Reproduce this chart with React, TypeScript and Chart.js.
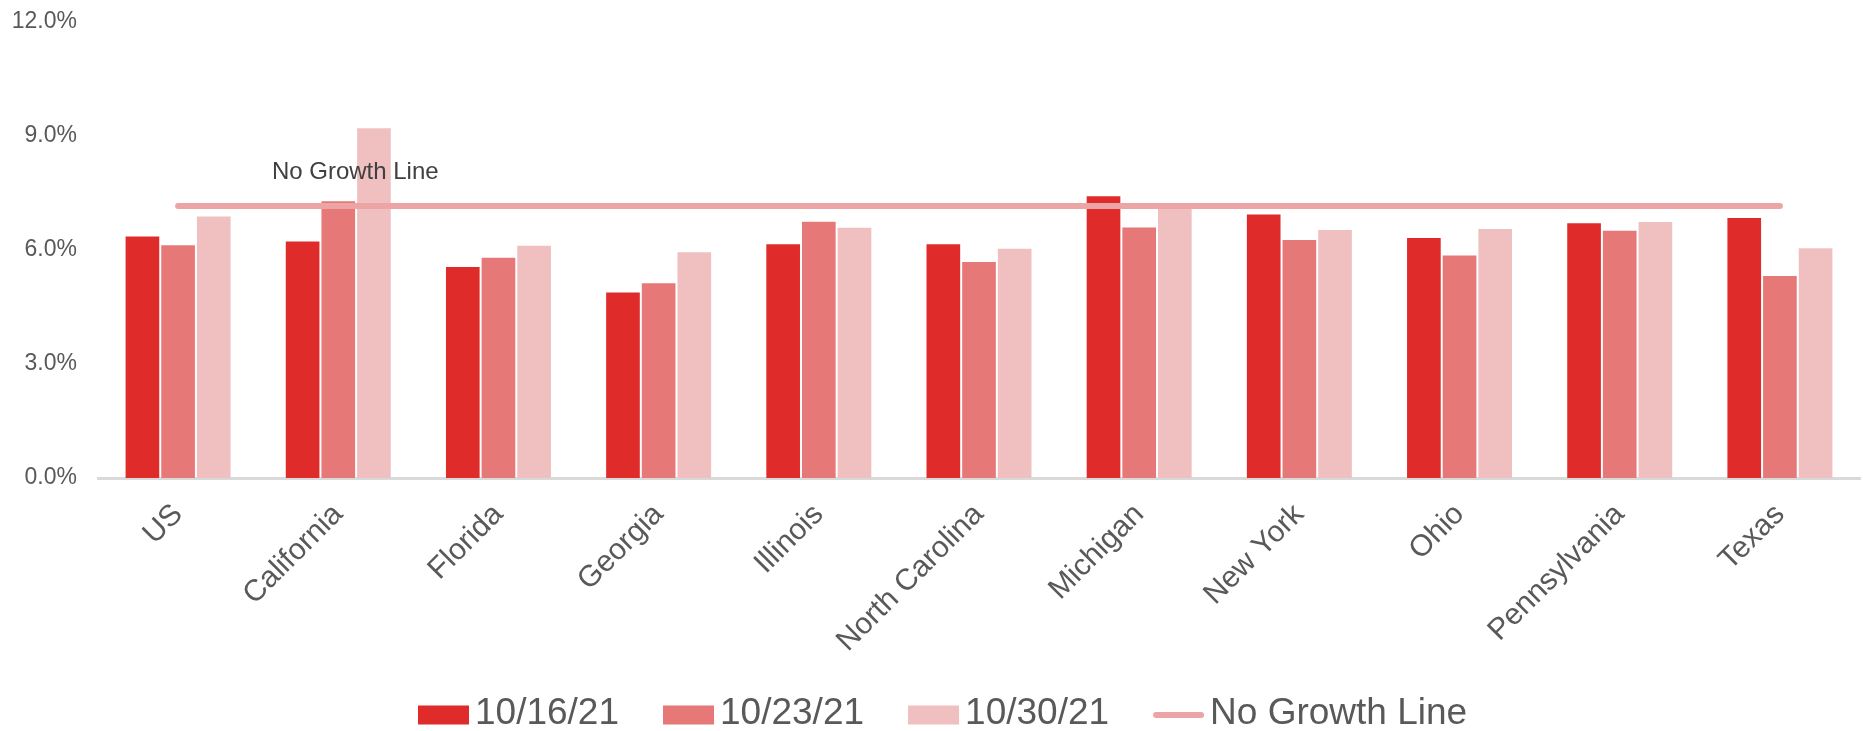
import React, { useEffect, useRef } from "react";
import { Chart, registerables } from "chart.js";

Chart.register(...registerables);

const categories = [
  "US",
  "California",
  "Florida",
  "Georgia",
  "Illinois",
  "North Carolina",
  "Michigan",
  "New York",
  "Ohio",
  "Pennsylvania",
  "Texas",
];
const week1016 = [6.38, 6.25, 5.58, 4.91, 6.18, 6.18, 7.44, 6.96, 6.34, 6.73, 6.87];
const week1023 = [6.15, 7.31, 5.82, 5.15, 6.77, 5.71, 6.62, 6.29, 5.88, 6.53, 5.34];
const week1030 = [6.91, 9.23, 6.14, 5.97, 6.61, 6.06, 7.2, 6.55, 6.58, 6.76, 6.07];
const noGrowthLine = [7.16, 7.16, 7.16, 7.16, 7.16, 7.16, 7.16, 7.16, 7.16, 7.16, 7.16];
const seriesLabels = ["10/16/21", "10/23/21", "10/30/21", "No Growth Line"];
const yTicks = [0, 3, 6, 9, 12];
const annotationText = "No Growth Line";

const FONT = "'Liberation Sans', Arial, Helvetica, sans-serif";
const COLORS = ["#E02B2B", "#E67878", "#F0C0C0", "#EDA4A4"];

const W = 1863;
const H = 731;
const PLOT_LEFT = 98;
const PLOT_TOP = 22;
const PLOT_BOTTOM = 478;

const legendPlugin = {
  id: "customLegend",
  afterDraw(chart: any) {
    const ctx = chart.ctx;
    const ds = chart.data.datasets;
    ctx.save();
    ctx.font = `37px ${FONT}`;
    ctx.textBaseline = "middle";
    ctx.textAlign = "left";
    const y = 715;
    let x = 418;
    ds.forEach((d: any) => {
      if (d.type === "line") {
        ctx.strokeStyle = d.borderColor;
        ctx.lineWidth = 6;
        ctx.lineCap = "round";
        ctx.beginPath();
        ctx.moveTo(x + 3, y);
        ctx.lineTo(x + 48, y);
        ctx.stroke();
      } else {
        ctx.fillStyle = d.backgroundColor;
        ctx.fillRect(x, y - 9.5, 51, 19);
      }
      ctx.fillStyle = "#595959";
      ctx.fillText(d.label, x + 57, y - 1);
      x += 57 + ctx.measureText(d.label).width + 44;
    });
    ctx.restore();
  },
};

const annotationPlugin = {
  id: "noGrowthLabel",
  afterDatasetsDraw(chart: any) {
    const ctx = chart.ctx;
    const xs = chart.scales.x;
    const ys = chart.scales.y;
    ctx.save();
    ctx.font = `24px ${FONT}`;
    ctx.fillStyle = "#404040";
    ctx.textAlign = "center";
    ctx.textBaseline = "middle";
    ctx.fillText(annotationText, xs.getPixelForValue(1) + 17, ys.getPixelForValue(noGrowthLine[1]) - 34);
    ctx.restore();
  },
};

export default function App() {
  const ref = useRef<HTMLCanvasElement>(null);
  useEffect(() => {
    if (!ref.current) return;
    const barCommon = {
      type: "bar" as const,
      categoryPercentage: 0.668,
      barPercentage: 1,
      borderWidth: 1,
      borderColor: "rgba(255,255,255,0.25)",
      order: 1,
    };
    const chart = new Chart(ref.current, {
      type: "bar",
      data: {
        labels: categories,
        datasets: [
          { ...barCommon, label: seriesLabels[0], data: week1016, backgroundColor: COLORS[0] },
          { ...barCommon, label: seriesLabels[1], data: week1023, backgroundColor: COLORS[1] },
          { ...barCommon, label: seriesLabels[2], data: week1030, backgroundColor: COLORS[2] },
          {
            type: "line" as const,
            label: seriesLabels[3],
            data: noGrowthLine,
            borderColor: COLORS[3],
            backgroundColor: COLORS[3],
            borderWidth: 6,
            borderCapStyle: "round",
            pointRadius: 0,
            fill: false,
            order: 0,
          } as any,
        ],
      },
      options: {
        responsive: false,
        animation: false,
        layout: { padding: { top: PLOT_TOP, left: 0, right: 3, bottom: 0 } },
        plugins: {
          legend: { display: false },
          tooltip: { enabled: false },
        },
        scales: {
          x: {
            grid: { display: false, drawTicks: false },
            border: { display: true, color: "#D9D9D9", width: 3 },
            ticks: {
              color: "#595959",
              font: { family: FONT, size: 30 },
              minRotation: 45,
              maxRotation: 45,
              padding: 19,
              autoSkip: false,
            },
            afterFit: (scale: any) => {
              scale.height = H - PLOT_BOTTOM;
              scale.paddingLeft = 0;
              scale.paddingRight = 0;
            },
          },
          y: {
            min: 0,
            max: 12,
            grid: { display: false, drawTicks: false },
            border: { display: false },
            afterBuildTicks: (scale: any) => {
              scale.ticks = yTicks.map((v) => ({ value: v }));
            },
            afterFit: (scale: any) => {
              scale.width = PLOT_LEFT;
              scale.paddingTop = 0;
              scale.paddingBottom = 0;
            },
            ticks: {
              color: "#595959",
              font: { family: FONT, size: 23 },
              padding: 21,
              callback: (v: any) => Number(v).toFixed(1) + "%",
            },
          },
        },
      },
      plugins: [annotationPlugin, legendPlugin],
    });
    return () => chart.destroy();
  }, []);
  return (
    <div style={{ position: "fixed", left: 0, top: 0, width: W, height: H, background: "#fff" }}>
      <canvas ref={ref} width={W} height={H} style={{ display: "block" }} />
    </div>
  );
}
